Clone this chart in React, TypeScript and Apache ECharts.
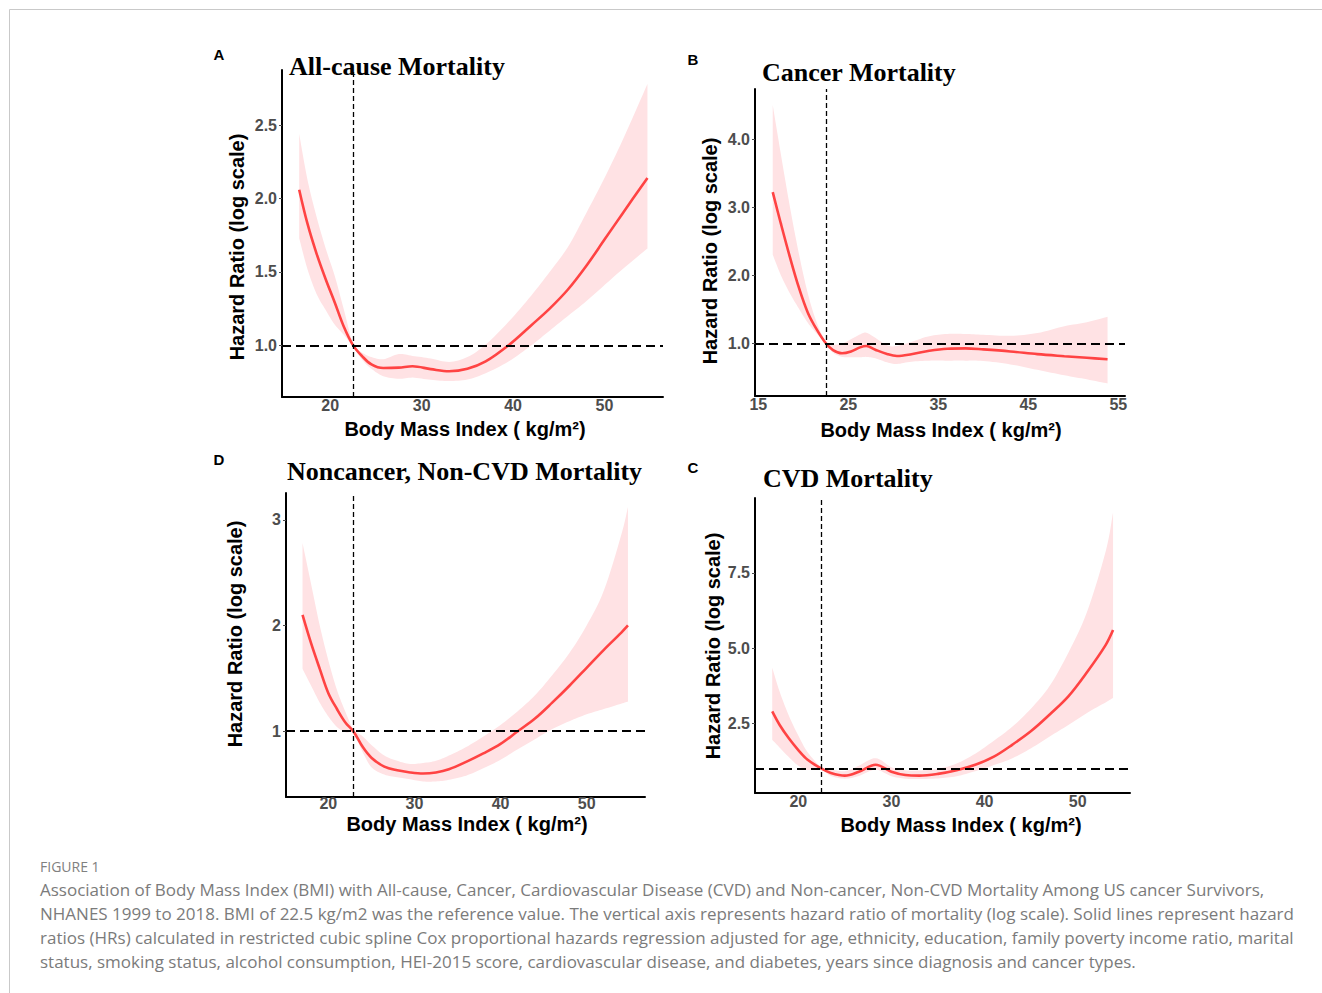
import React, { useEffect, useRef } from "react";
import * as echarts from "echarts";

// ---------- Data ----------
// Panel A: All-cause mortality
const bmiA = [16.6, 17.5, 18.5, 19.5, 20.5, 21.5, 22.5, 23.5, 24.5, 25.8, 27.5, 29, 31, 33, 35, 37, 39.5, 42, 44, 46, 48, 50, 52, 54.7];
const hrA = [2.06, 1.83, 1.625, 1.45, 1.29, 1.125, 1.0, 0.925, 0.87, 0.845, 0.848, 0.857, 0.838, 0.823, 0.84, 0.89, 1.0, 1.137, 1.25, 1.38, 1.54, 1.72, 1.9, 2.14];
const upperA = [2.44, 2.13, 1.875, 1.66, 1.47, 1.24, 1.01, 0.95, 0.92, 0.905, 0.94, 0.928, 0.91, 0.887, 0.92, 1.005, 1.16, 1.34, 1.5, 1.67, 1.9, 2.14, 2.4, 2.78];
const lowerA = [1.73, 1.52, 1.35, 1.24, 1.14, 1.07, 0.99, 0.9, 0.84, 0.79, 0.772, 0.78, 0.765, 0.757, 0.767, 0.81, 0.89, 1.0, 1.1, 1.2, 1.3, 1.41, 1.52, 1.66];

// Panel B: Cancer mortality
const bmiB = [16.6, 17.5, 18.5, 19.5, 20.5, 21.5, 22.5, 23.3, 24.3, 25.3, 26.3, 27, 28, 29.3, 30.4, 32, 34, 36, 38, 40, 43, 46, 49, 51.5, 53.8];
const hrB = [3.22, 2.76, 2.27, 1.82, 1.45, 1.2, 1.0, 0.9, 0.853, 0.88, 0.94, 0.96, 0.905, 0.843, 0.814, 0.84, 0.89, 0.92, 0.925, 0.91, 0.88, 0.84, 0.81, 0.787, 0.765];
const upperB = [4.5, 3.78, 3.01, 2.32, 1.73, 1.3, 1.03, 0.98, 0.995, 1.06, 1.13, 1.155, 1.08, 0.97, 0.96, 1.02, 1.105, 1.137, 1.137, 1.125, 1.11, 1.15, 1.25, 1.31, 1.39];
const lowerB = [2.3, 2.0, 1.735, 1.51, 1.3, 1.14, 0.99, 0.86, 0.8, 0.794, 0.794, 0.8, 0.78, 0.72, 0.696, 0.73, 0.745, 0.745, 0.745, 0.74, 0.69, 0.61, 0.53, 0.47, 0.41];

// Panel D: Noncancer, non-CVD mortality
const bmiD = [17, 18, 19, 20, 21, 22, 22.9, 24, 25, 26.5, 28, 29.5, 31, 32.5, 34, 36, 38, 40, 42, 44, 46, 48, 50, 52, 54, 54.8];
const hrD = [2.1, 1.83, 1.59, 1.36, 1.21, 1.08, 1.0, 0.85, 0.75, 0.665, 0.63, 0.61, 0.6, 0.61, 0.64, 0.71, 0.79, 0.88, 1.0, 1.12, 1.27, 1.43, 1.6, 1.77, 1.93, 2.0];
const upperD = [2.78, 2.39, 2.0, 1.67, 1.39, 1.18, 1.02, 0.95, 0.87, 0.77, 0.72, 0.69, 0.7, 0.72, 0.77, 0.85, 0.95, 1.06, 1.19, 1.34, 1.53, 1.74, 2.0, 2.33, 2.85, 3.12];
const lowerD = [1.59, 1.43, 1.27, 1.14, 1.04, 0.99, 0.98, 0.8, 0.66, 0.59, 0.565, 0.545, 0.525, 0.525, 0.54, 0.58, 0.65, 0.73, 0.83, 0.925, 1.02, 1.095, 1.16, 1.21, 1.26, 1.28];

// Panel C: CVD mortality
const bmiC = [17.2, 18, 19, 20, 21, 22.5, 23.5, 25, 26.5, 28.3, 30, 31.5, 33, 35, 37, 39, 41, 43, 45, 47, 49, 51, 53, 53.8];
const hrC = [2.9, 2.45, 2.0, 1.62, 1.3, 1.0, 0.86, 0.77, 0.9, 1.13, 0.9, 0.79, 0.77, 0.83, 0.95, 1.13, 1.4, 1.8, 2.25, 2.8, 3.4, 4.2, 5.1, 5.6];
const upperC = [4.35, 3.55, 2.75, 2.1, 1.55, 1.04, 0.98, 0.92, 1.1, 1.35, 1.05, 0.95, 0.94, 1.0, 1.17, 1.5, 1.93, 2.4, 3.0, 3.75, 4.85, 6.2, 8.2, 9.5];
const lowerC = [1.96, 1.7, 1.38, 1.1, 0.96, 0.96, 0.76, 0.67, 0.76, 0.97, 0.75, 0.67, 0.66, 0.68, 0.75, 0.92, 1.12, 1.35, 1.68, 2.07, 2.45, 2.85, 3.2, 3.35];

// Reference values
const refHR = 1;
const refBmiA = 22.5;
const refBmiB = 22.5;
const refBmiD = 22.9;
const refBmiC = 22.5;

// Tick labels
const xTicksA = [20, 30, 40, 50];
const xTicksB = [15, 25, 35, 45, 55];
const xTicksD = [20, 30, 40, 50];
const xTicksC = [20, 30, 40, 50];
const yTicksA = [1.0, 1.5, 2.0, 2.5];
const yTicksB = [1.0, 2.0, 3.0, 4.0];
const yTicksD = [1, 2, 3];
const yTicksC = [2.5, 5.0, 7.5];

const panelLetters = ["A", "B", "D", "C"];
const panelTitles = ["All-cause Mortality", "Cancer Mortality", "Noncancer, Non-CVD Mortality", "CVD Mortality"];
const yAxisTitle = "Hazard Ratio (log scale)";
const xAxisTitle = "Body Mass Index ( kg/m\u00b2)";

const figureLabel = "FIGURE 1";
const captionLines = [
  "Association of Body Mass Index (BMI) with All-cause, Cancer, Cardiovascular Disease (CVD) and Non-cancer, Non-CVD Mortality Among US cancer Survivors,",
  "NHANES 1999 to 2018. BMI of 22.5 kg/m2 was the reference value. The vertical axis represents hazard ratio of mortality (log scale). Solid lines represent hazard",
  "ratios (HRs) calculated in restricted cubic spline Cox proportional hazards regression adjusted for age, ethnicity, education, family poverty income ratio, marital",
  "status, smoking status, alcohol consumption, HEI-2015 score, cardiovascular disease, and diabetes, years since diagnosis and cancer types.",
];

// ---------- Layout ----------
const SANS = "'Liberation Sans', Arial, sans-serif";
const SERIF = "'Liberation Serif', 'Times New Roman', serif";
const CAPTION_FONT = "'Open Sans', sans-serif";
const RED = "#ff4343";
const BAND = "#ffe2e4";
const TICK_GRAY = "#4d4d4d";

type Panel = {
  bmi: number[]; hr: number[]; lo: number[]; up: number[]; refBmi: number;
  xTicks: number[]; yTicks: number[]; dec: number;
  grid: { left: number; top: number; width: number; height: number };
  xMin: number; xMax: number; yMin: number; yMax: number; labelMargin: number;
  letter: [number, number]; title: [number, number]; yTitle: [number, number]; xTitle: [number, number];
};

const panels: Panel[] = [
  {
    bmi: bmiA, hr: hrA, lo: lowerA, up: upperA, refBmi: refBmiA, xTicks: xTicksA, yTicks: yTicksA, dec: 1,
    grid: { left: 282, top: 70, width: 381, height: 327 },
    xMin: 14.72, xMax: 56.4, yMin: 0.648, yMax: 2.875, labelMargin: 0,
    letter: [219, 54], title: [289, 66], yTitle: [237, 247], xTitle: [465, 429],
  },
  {
    bmi: bmiB, hr: hrB, lo: lowerB, up: upperB, refBmi: refBmiB, xTicks: xTicksB, yTicks: yTicksB, dec: 1,
    grid: { left: 755, top: 89, width: 370, height: 307 },
    xMin: 14.63, xMax: 55.74, yMin: 0.2255, yMax: 4.735, labelMargin: 0,
    letter: [693, 59], title: [762, 72], yTitle: [710, 251], xTitle: [941, 430],
  },
  {
    bmi: bmiD, hr: hrD, lo: lowerD, up: upperD, refBmi: refBmiD, xTicks: xTicksD, yTicks: yTicksD, dec: 0,
    grid: { left: 286, top: 493, width: 359, height: 304 },
    xMin: 15.08, xMax: 56.78, yMin: 0.378, yMax: 3.253, labelMargin: -2,
    letter: [219, 459], title: [287, 471], yTitle: [235, 634], xTitle: [467, 824],
  },
  {
    bmi: bmiC, hr: hrC, lo: lowerC, up: upperC, refBmi: refBmiC, xTicks: xTicksC, yTicks: yTicksC, dec: 1,
    grid: { left: 755, top: 498, width: 375, height: 295 },
    xMin: 15.35, xMax: 55.62, yMin: 0.195, yMax: 9.98, labelMargin: 0,
    letter: [693, 467], title: [763, 478], yTitle: [713, 646], xTitle: [961, 825],
  },
];

// Catmull-Rom smoothing of pixel points (rendering only)
function smoothPixels(pts: number[][], steps = 8): number[][] {
  const out: number[][] = [];
  const n = pts.length;
  for (let i = 0; i < n - 1; i++) {
    const p0 = pts[Math.max(0, i - 1)];
    const p1 = pts[i];
    const p2 = pts[i + 1];
    const p3 = pts[Math.min(n - 1, i + 2)];
    for (let s = 0; s < steps; s++) {
      const t = s / steps;
      const t2 = t * t;
      const t3 = t2 * t;
      const f = (a: number, b: number, c: number, d: number) =>
        0.5 * (2 * b + (-a + c) * t + (2 * a - 5 * b + 4 * c - d) * t2 + (-a + 3 * b - 3 * c + d) * t3);
      out.push([f(p0[0], p1[0], p2[0], p3[0]), f(p0[1], p1[1], p2[1], p3[1])]);
    }
  }
  out.push(pts[n - 1]);
  return out;
}

function buildOption() {
  const grid: any[] = [];
  const xAxis: any[] = [];
  const yAxis: any[] = [];
  const series: any[] = [];
  const graphic: any[] = [];

  // page frame
  graphic.push({ type: "line", silent: true, shape: { x1: 9.5, y1: 9.5, x2: 1322, y2: 9.5 }, style: { stroke: "#c9c9c9", lineWidth: 1 } });
  graphic.push({ type: "line", silent: true, shape: { x1: 9.5, y1: 9.5, x2: 9.5, y2: 993 }, style: { stroke: "#c9c9c9", lineWidth: 1 } });

  panels.forEach((p, i) => {
    grid.push({ ...p.grid, containLabel: false });
    xAxis.push({
      type: "value", gridIndex: i, min: p.xMin, max: p.xMax, z: 10,
      axisLine: { show: true, onZero: false, lineStyle: { color: "#000", width: 2 } },
      axisTick: { show: false },
      splitLine: { show: false },
      axisLabel: {
        customValues: p.xTicks, margin: p.labelMargin, color: TICK_GRAY, fontSize: 16, fontWeight: "bold", fontFamily: SANS,
        formatter: (v: number) => String(v),
      },
    });
    yAxis.push({
      type: "value", gridIndex: i, min: p.yMin, max: p.yMax, z: 10,
      axisLine: { show: true, onZero: false, lineStyle: { color: "#000", width: 2 } },
      axisTick: { show: true, customValues: p.yTicks, length: 3, lineStyle: { color: TICK_GRAY, width: 1 } },
      splitLine: { show: false },
      axisLabel: {
        customValues: p.yTicks, margin: 5, color: TICK_GRAY, fontSize: 16, fontWeight: "bold", fontFamily: SANS,
        formatter: (v: number) => v.toFixed(p.dec),
      },
    });

    // confidence band as one polygon (upper bound forward, lower bound backward)
    series.push({
      type: "custom", xAxisIndex: i, yAxisIndex: i, silent: true, z: 1,
      data: p.bmi.map((x, k) => [x, p.lo[k], p.up[k]]),
      encode: { x: 0, y: [1, 2] },
      renderItem: (params: any, api: any) => {
        if (params.dataIndex !== 0) return null;
        const upPts = p.bmi.map((x, k) => api.coord([x, p.up[k]]));
        const loPts = p.bmi.map((x, k) => api.coord([x, p.lo[k]]));
        const pts = smoothPixels(upPts).concat(smoothPixels(loPts).reverse());
        return { type: "polygon", shape: { points: pts }, style: { fill: BAND, stroke: null } };
      },
    });
    series.push({
      type: "line", xAxisIndex: i, yAxisIndex: i, symbol: "none", smooth: 0.35, silent: true,
      data: p.bmi.map((x, k) => [x, p.hr[k]]),
      lineStyle: { color: RED, width: 2.6 }, z: 4,
      markLine: {
        silent: true, symbol: ["none", "none"], label: { show: false }, animation: false,
        data: [
          { yAxis: refHR, lineStyle: { type: [9, 5], width: 2, color: "#000" } },
          { xAxis: p.refBmi, lineStyle: { type: [5, 3], width: 1.3, color: "#000" } },
        ],
      },
    });

    graphic.push({
      type: "text", silent: true, x: p.letter[0], y: p.letter[1],
      style: { text: panelLetters[i], font: `bold 15px ${SANS}`, fill: "#000", align: "center", verticalAlign: "middle" },
    });
    graphic.push({
      type: "text", silent: true, x: p.title[0], y: p.title[1], z: 20,
      style: { text: panelTitles[i], font: `bold 26px ${SERIF}`, fill: "#000", align: "left", verticalAlign: "middle" },
    });
    graphic.push({
      type: "text", silent: true, x: p.yTitle[0], y: p.yTitle[1], rotation: Math.PI / 2,
      style: { text: yAxisTitle, font: `bold 20px ${SANS}`, fill: "#000", align: "center", verticalAlign: "middle" },
    });
    graphic.push({
      type: "text", silent: true, x: p.xTitle[0], y: p.xTitle[1],
      style: { text: xAxisTitle, font: `bold 20px ${SANS}`, fill: "#000", align: "center", verticalAlign: "middle" },
    });
  });

  graphic.push({
    type: "text", silent: true, x: 40, y: 866,
    style: { text: figureLabel, font: `14px ${CAPTION_FONT}`, fill: "#808080", align: "left", verticalAlign: "middle" },
  });
  captionLines.forEach((line, k) => {
    graphic.push({
      type: "text", silent: true, x: 40, y: 889 + k * 24,
      style: { text: line, font: `17px ${CAPTION_FONT}`, fill: "#7b7b7b", align: "left", verticalAlign: "middle" },
    });
  });

  return { animation: false, backgroundColor: "#fff", grid, xAxis, yAxis, series, graphic };
}

export default function App() {
  const ref = useRef<HTMLDivElement>(null);
  useEffect(() => {
    if (!ref.current) return;
    const chart = echarts.init(ref.current, null, { renderer: "svg" });
    chart.setOption(buildOption() as any);
    return () => chart.dispose();
  }, []);
  return <div ref={ref} style={{ position: "absolute", left: 0, top: 0, width: 1322, height: 993 }} />;
}
